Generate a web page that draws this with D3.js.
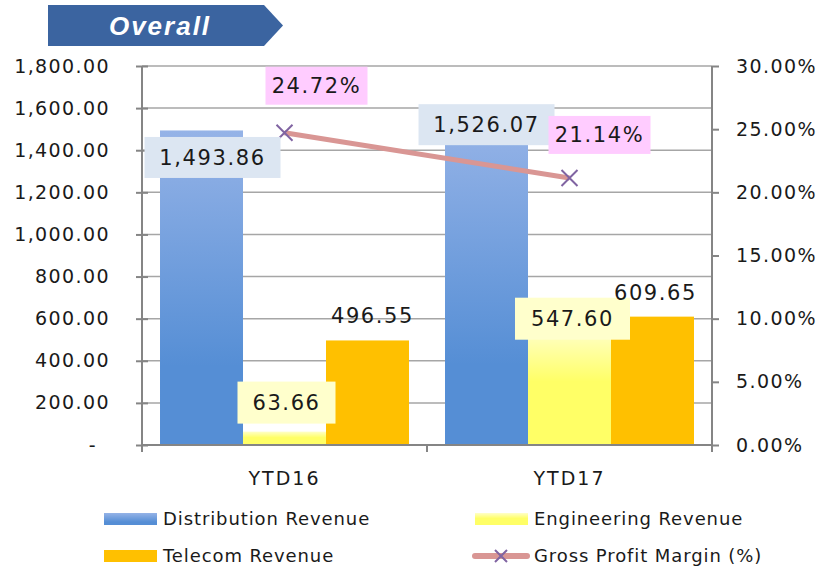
<!DOCTYPE html>
<html>
<head>
<meta charset="utf-8">
<script src="https://cdn.jsdelivr.net/npm/d3@7"></script>
<style>
  body { margin: 0; background: #fff; }
  text { font-family: "DejaVu Sans", sans-serif; fill: #1a1a1a; }
</style>
</head>
<body>
<div id="chart"></div>
<script>
// chart data
const categories = ["YTD16", "YTD17"];
const seriesNames = ["Distribution Revenue", "Engineering Revenue", "Telecom Revenue"];
const distribution = [1493.86, 1526.07];
const engineering = [63.66, 547.60];
const telecom = [496.55, 609.65];
const margin = [0.2472, 0.2114];
const leftTicks = [0, 200, 400, 600, 800, 1000, 1200, 1400, 1600, 1800];
const rightTicks = [0, 0.05, 0.10, 0.15, 0.20, 0.25, 0.30];

const width = 823, height = 569;
const plot = { left: 142, right: 712, top: 66, bottom: 445 };

const svg = d3.select("#chart").append("svg")
  .attr("width", width)
  .attr("height", height);

// gradients for the bars
const defs = svg.append("defs");
function grad(id, top, bottom, stopAt) {
  const g = defs.append("linearGradient").attr("id", id)
    .attr("x1", 0).attr("y1", 0).attr("x2", 0).attr("y2", 1);
  g.append("stop").attr("offset", "0%").attr("stop-color", top);
  g.append("stop").attr("offset", stopAt).attr("stop-color", bottom);
  g.append("stop").attr("offset", "100%").attr("stop-color", bottom);
}
grad("gBlue", "#95B3E7", "#558ED5", "75%");
grad("gYellow", "#FFFFC8", "#FFFF66", "45%");
grad("gOrange", "#FFC000", "#FFC000", "100%");
const fills = ["url(#gBlue)", "url(#gYellow)", "url(#gOrange)"];

// title banner
const bx = 48, by = 5, bw = 216, bh = 41;
svg.append("path")
  .attr("d", `M${bx},${by}H${bx + bw}L${bx + bw + 19},${by + bh / 2}L${bx + bw},${by + bh}H${bx}Z`)
  .attr("fill", "#3B64A0");
svg.append("text")
  .attr("x", 160).attr("y", 35)
  .attr("text-anchor", "middle")
  .style("font-family", "'Liberation Sans', Arial, sans-serif")
  .style("font-weight", "bold")
  .style("font-style", "italic")
  .style("font-size", "26px")
  .style("letter-spacing", "2px")
  .style("fill", "#fff")
  .text("Overall");

// scales
const x0 = d3.scaleBand().domain(categories).range([plot.left, plot.right]);
const x1 = d3.scaleBand().domain(seriesNames).range([0, x0.bandwidth()]).paddingOuter(0.217);
const y = d3.scaleLinear().domain([0, 1800]).range([plot.bottom, plot.top]);
const yR = d3.scaleLinear().domain([0, 0.30]).range([plot.bottom, plot.top]);

// gridlines
svg.append("g")
  .selectAll("line")
  .data(leftTicks.filter(d => d > 0))
  .join("line")
  .attr("x1", plot.left).attr("x2", plot.right)
  .attr("y1", d => y(d)).attr("y2", d => y(d))
  .attr("stroke", "#A6A6A6").attr("stroke-width", 1.5);

// bars
const rows = categories.map((c, i) => ({
  cat: c,
  values: [distribution[i], engineering[i], telecom[i]]
}));
const groups = svg.append("g").selectAll("g")
  .data(rows)
  .join("g")
  .attr("transform", d => `translate(${x0(d.cat)},0)`);
groups.selectAll("rect")
  .data(d => d.values.map((v, k) => ({ v, k })))
  .join("rect")
  .attr("x", d => x1(seriesNames[d.k]))
  .attr("width", x1.bandwidth())
  .attr("y", d => y(d.v))
  .attr("height", d => y(0) - y(d.v))
  .attr("fill", d => fills[d.k]);

// axes
const axisColor = "#858585";
const leftAxis = svg.append("g")
  .attr("transform", `translate(${plot.left},0)`)
  .call(d3.axisLeft(y).tickValues(leftTicks).tickSize(6)
    .tickFormat(d => d === 0 ? "-" : d3.format(",.2f")(d)));
leftAxis.select(".domain").remove();
leftAxis.selectAll(".tick line").attr("x2", 6).attr("x1", -6)
  .attr("stroke", axisColor).attr("stroke-width", 2);
leftAxis.selectAll(".tick text")
  .attr("x", -32)
  .style("font-size", "19px")
  .style("letter-spacing", "1.4px")
  .attr("fill", "#1a1a1a");
leftAxis.selectAll(".tick text").filter(d => d === 0).attr("x", -45);

const rightAxis = svg.append("g")
  .attr("transform", `translate(${plot.right},0)`)
  .call(d3.axisRight(yR).tickValues(rightTicks).tickSize(7)
    .tickFormat(d3.format(".2%")));
rightAxis.select(".domain").remove();
rightAxis.selectAll(".tick line").attr("stroke", axisColor).attr("stroke-width", 2);
rightAxis.selectAll(".tick text")
  .attr("x", 24)
  .style("font-size", "19px")
  .style("letter-spacing", "1.4px")
  .attr("fill", "#1a1a1a");

svg.append("line")
  .attr("x1", plot.left).attr("x2", plot.left)
  .attr("y1", plot.top).attr("y2", plot.bottom + 1)
  .attr("stroke", axisColor).attr("stroke-width", 2);
svg.append("line")
  .attr("x1", plot.right).attr("x2", plot.right)
  .attr("y1", plot.top).attr("y2", plot.bottom + 1)
  .attr("stroke", axisColor).attr("stroke-width", 2);

// bottom axis with boundary ticks
const bottom = svg.append("g");
bottom.append("line")
  .attr("x1", plot.left).attr("x2", plot.right)
  .attr("y1", plot.bottom).attr("y2", plot.bottom)
  .attr("stroke", axisColor).attr("stroke-width", 2);
const bounds = categories.map(c => x0(c)).concat([x0(categories[categories.length - 1]) + x0.bandwidth()]);
bottom.selectAll("line.b")
  .data(bounds)
  .join("line")
  .attr("class", "b")
  .attr("x1", d => d).attr("x2", d => d)
  .attr("y1", plot.bottom).attr("y2", plot.bottom + 7)
  .attr("stroke", axisColor).attr("stroke-width", 2);
bottom.selectAll("text")
  .data(categories)
  .join("text")
  .attr("x", d => x0(d) + x0.bandwidth() / 2)
  .attr("y", 485)
  .attr("text-anchor", "middle")
  .style("font-size", "19px")
  .style("letter-spacing", "2px")
  .text(d => d);

// margin line
const px = d => x0(d) + x0.bandwidth() / 2;
svg.append("path")
  .datum(margin)
  .attr("d", d3.line().x((d, i) => px(categories[i])).y(d => yR(d)))
  .attr("fill", "none")
  .attr("stroke", "#D99694")
  .attr("stroke-width", 5);
function cross(sel, s) {
  sel.append("path")
    .attr("d", `M${-s},${-s}L${s},${s}M${-s},${s}L${s},${-s}`)
    .attr("stroke", "#8064A2")
    .attr("stroke-width", 2)
    .attr("fill", "none");
}
svg.append("g").selectAll("g")
  .data(margin)
  .join("g")
  .attr("transform", (d, i) => `translate(${px(categories[i])},${yR(d)})`)
  .call(sel => cross(sel, 8));

// data labels (offsets from anchor point)
function boxLabel(cx, cy, w, h, txt, bg) {
  const g = svg.append("g");
  if (bg) {
    g.append("rect")
      .attr("x", cx - w / 2).attr("y", cy - h / 2)
      .attr("width", w).attr("height", h)
      .attr("fill", bg);
  }
  g.append("text")
    .attr("x", cx).attr("y", cy)
    .attr("dy", "0.36em")
    .attr("text-anchor", "middle")
    .style("font-size", "21px")
    .style("letter-spacing", "1.6px")
    .text(txt);
}
const fmt = d3.format(",.2f");
const blueOff = [[11, 27], [0, 1]];
const yellowOff = [[2, -29], [3, -11]];
const orangeOff = [[5, -25], [3, -24]];
const pctOff = [[32, -47], [30, -43]];

categories.forEach((c, i) => {
  const bxc = x0(c) + x1(seriesNames[0]) + x1.bandwidth() / 2;
  boxLabel(bxc + blueOff[i][0], y(distribution[i]) + blueOff[i][1], 136, 41, fmt(distribution[i]), "#DCE6F2");
  const yxc = x0(c) + x1(seriesNames[1]) + x1.bandwidth() / 2;
  boxLabel(yxc + yellowOff[i][0], y(engineering[i]) + yellowOff[i][1], i === 0 ? 98 : 115, 42, fmt(engineering[i]), "#FFFFCC");
  const oxc = x0(c) + x1(seriesNames[2]) + x1.bandwidth() / 2;
  boxLabel(oxc + orangeOff[i][0], y(telecom[i]) + orangeOff[i][1], 0, 0, fmt(telecom[i]), null);
  boxLabel(px(c) + pctOff[i][0], yR(margin[i]) + pctOff[i][1], 102, 38, d3.format(".2%")(margin[i]), "#FFCCFF");
});

// legend
const legendItems = [
  { name: seriesNames[0], fill: fills[0], x: 104, y: 519 },
  { name: seriesNames[1], fill: fills[1], x: 475, y: 519 },
  { name: seriesNames[2], fill: fills[2], x: 104, y: 556 },
  { name: "Gross Profit Margin (%)", line: true, x: 475, y: 556 }
];
const leg = svg.append("g").selectAll("g")
  .data(legendItems)
  .join("g")
  .attr("transform", d => `translate(${d.x},${d.y})`);
leg.filter(d => !d.line).append("rect")
  .attr("x", 0).attr("y", -6).attr("width", 53).attr("height", 12)
  .attr("fill", d => d.fill);
const legLine = leg.filter(d => d.line);
legLine.append("line")
  .attr("x1", 0).attr("x2", 52).attr("y1", 0).attr("y2", 0)
  .attr("stroke", "#D99694").attr("stroke-width", 6).attr("stroke-linecap", "round");
legLine.append("g").attr("transform", "translate(26,0)").call(sel => cross(sel, 6));
leg.append("text")
  .attr("x", 59).attr("y", 0).attr("dy", "0.36em")
  .style("font-size", "18px")
  .style("letter-spacing", "0.9px")
  .text(d => d.name);
</script>
</body>
</html>
